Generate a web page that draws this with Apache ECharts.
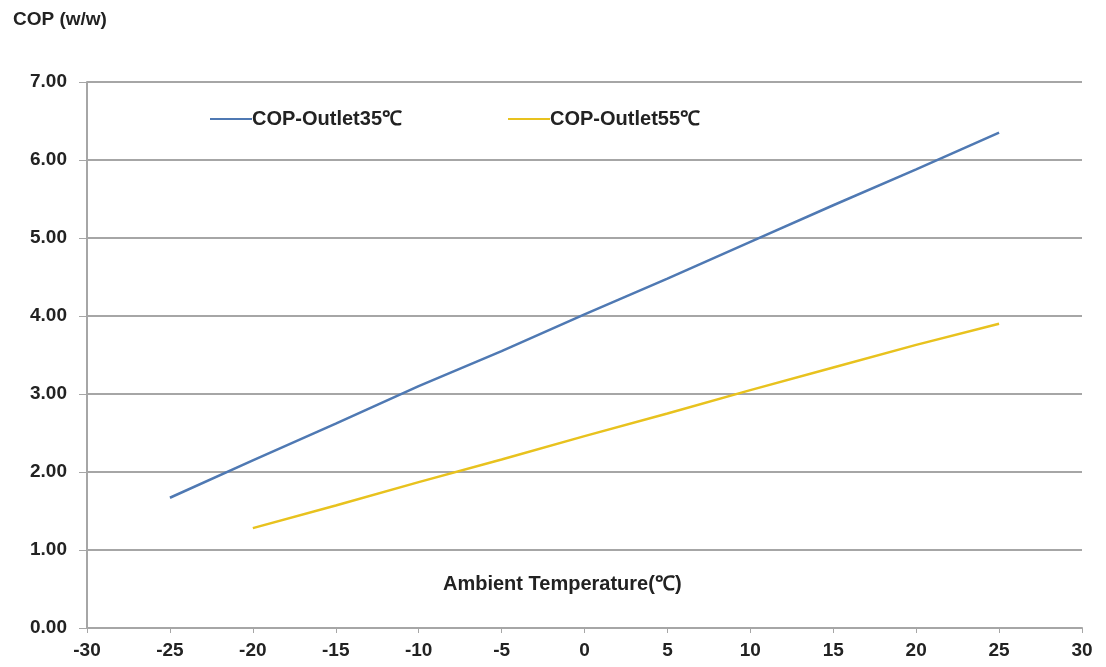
<!DOCTYPE html>
<html><head><meta charset="utf-8">
<script src="https://cdn.jsdelivr.net/npm/echarts@6/dist/echarts.min.js"></script>
<style>html,body{margin:0;padding:0;background:#fff}#c{width:1106px;height:667px}</style>
</head><body><div id="c"></div>
<script>
const temps35 = [-25, -20, -15, -10, -5, 0, 5, 10, 15, 20, 25];
const cop35 = [1.67, 2.15, 2.62, 3.10, 3.55, 4.02, 4.48, 4.95, 5.42, 5.88, 6.35];
const temps55 = [-20, -15, -10, -5, 0, 5, 10, 15, 20, 25];
const cop55 = [1.28, 1.57, 1.87, 2.16, 2.46, 2.75, 3.05, 3.34, 3.63, 3.90];
const seriesNames = ['COP-Outlet35℃', 'COP-Outlet55℃'];
const yTitle = 'COP (w/w)';
const xTitle = 'Ambient Temperature(℃)';

const font = 'Liberation Sans, Arial, sans-serif';
const chart = echarts.init(document.getElementById('c'));
chart.setOption({
  animation: false,
  backgroundColor: '#fff',
  grid: { left: 87, right: 24, top: 82, bottom: 39 },
  legend: {
    left: 205, top: 104, itemWidth: 42, itemHeight: 2, itemGap: 106, icon: 'rect',
    textStyle: { fontFamily: font, fontWeight: 'bold', fontSize: 20, color: '#222', padding: [0, 0, 0, -5] },
    data: seriesNames
  },
  graphic: [
    { type: 'text', left: 13, top: 10, style: { text: yTitle, font: 'bold 19px ' + font, fill: '#222' } },
    { type: 'text', left: 443, top: 574, style: { text: xTitle, font: 'bold 20px ' + font, fill: '#222' } }
  ],
  xAxis: {
    type: 'value', min: -30, max: 30, interval: 5,
    axisLine: { show: true, onZero: false, lineStyle: { color: '#a6a6a6', width: 2 } },
    axisTick: { show: true, length: 5, lineStyle: { color: '#a6a6a6' } },
    splitLine: { show: false },
    axisLabel: { margin: 13, fontFamily: font, fontWeight: 'bold', fontSize: 19, color: '#222' }
  },
  yAxis: {
    type: 'value', min: 0, max: 7, interval: 1,
    axisLine: { show: true, onZero: false, lineStyle: { color: '#a6a6a6', width: 2 } },
    axisTick: { show: true, length: 8, lineStyle: { color: '#a6a6a6' } },
    splitLine: { show: true, lineStyle: { color: '#a6a6a6', width: 2 } },
    axisLabel: { margin: 20, fontFamily: font, fontWeight: 'bold', fontSize: 19, color: '#222', formatter: v => v.toFixed(2) }
  },
  series: [
    { name: seriesNames[0], type: 'line', symbol: 'none', lineStyle: { color: '#4f79b3', width: 2.5 }, itemStyle: { color: '#4f79b3' },
      data: temps35.map((t, i) => [t, cop35[i]]) },
    { name: seriesNames[1], type: 'line', symbol: 'none', lineStyle: { color: '#e8c21e', width: 2.5 }, itemStyle: { color: '#e8c21e' },
      data: temps55.map((t, i) => [t, cop55[i]]) }
  ]
});
</script></body></html>
